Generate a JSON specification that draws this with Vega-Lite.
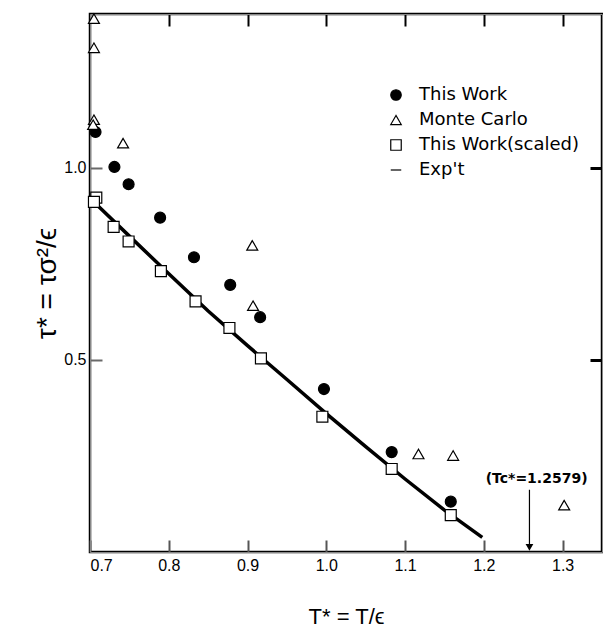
{
  "$schema": "https://vega.github.io/schema/vega-lite/v6.json",
  "width": 512,
  "height": 538,
  "autosize": {"type": "none"},
  "padding": {"left": 90, "top": 14, "right": 1, "bottom": 82},
  "background": "white",
  "config": {
    "view": {"stroke": "black", "strokeWidth": 2.5},
    "font": "Liberation Sans",
    "axis": {"zindex": 1, "grid": false, "labelColor": "black", "titleColor": "black", "labelFont": "Liberation Sans", "titleFont": "Liberation Sans", "titleFontWeight": "normal"}
  },
  "datasets": {
    "main": [
      {"series": "This Work", "T": 0.707, "tau": 1.093},
      {"series": "This Work", "T": 0.731, "tau": 1.002},
      {"series": "This Work", "T": 0.749, "tau": 0.957},
      {"series": "This Work", "T": 0.789, "tau": 0.870},
      {"series": "This Work", "T": 0.832, "tau": 0.767},
      {"series": "This Work", "T": 0.878, "tau": 0.695},
      {"series": "This Work", "T": 0.916, "tau": 0.611},
      {"series": "This Work", "T": 0.997, "tau": 0.424},
      {"series": "This Work", "T": 1.083, "tau": 0.260},
      {"series": "This Work", "T": 1.158, "tau": 0.131},
      {"series": "Monte Carlo", "T": 0.705, "tau": 1.388},
      {"series": "Monte Carlo", "T": 0.705, "tau": 1.312},
      {"series": "Monte Carlo", "T": 0.705, "tau": 1.125},
      {"series": "Monte Carlo", "T": 0.704, "tau": 1.112},
      {"series": "Monte Carlo", "T": 0.742, "tau": 1.064},
      {"series": "Monte Carlo", "T": 0.906, "tau": 0.798},
      {"series": "Monte Carlo", "T": 0.907, "tau": 0.641},
      {"series": "Monte Carlo", "T": 1.117, "tau": 0.255},
      {"series": "Monte Carlo", "T": 1.161, "tau": 0.251},
      {"series": "Monte Carlo", "T": 1.302, "tau": 0.122},
      {"series": "This Work(scaled)", "T": 0.708, "tau": 0.922},
      {"series": "This Work(scaled)", "T": 0.705, "tau": 0.911},
      {"series": "This Work(scaled)", "T": 0.730, "tau": 0.846},
      {"series": "This Work(scaled)", "T": 0.749, "tau": 0.808},
      {"series": "This Work(scaled)", "T": 0.790, "tau": 0.731},
      {"series": "This Work(scaled)", "T": 0.834, "tau": 0.652},
      {"series": "This Work(scaled)", "T": 0.877, "tau": 0.583},
      {"series": "This Work(scaled)", "T": 0.917, "tau": 0.504},
      {"series": "This Work(scaled)", "T": 0.995, "tau": 0.352},
      {"series": "This Work(scaled)", "T": 1.083, "tau": 0.216},
      {"series": "This Work(scaled)", "T": 1.158, "tau": 0.096},
      {"series": "Exp't", "T": 0.706, "tau": 0.909},
      {"series": "Exp't", "T": 0.75, "tau": 0.822},
      {"series": "Exp't", "T": 0.80, "tau": 0.724},
      {"series": "Exp't", "T": 0.85, "tau": 0.627},
      {"series": "Exp't", "T": 0.90, "tau": 0.537},
      {"series": "Exp't", "T": 0.95, "tau": 0.449},
      {"series": "Exp't", "T": 1.00, "tau": 0.360},
      {"series": "Exp't", "T": 1.05, "tau": 0.274},
      {"series": "Exp't", "T": 1.10, "tau": 0.190},
      {"series": "Exp't", "T": 1.15, "tau": 0.109},
      {"series": "Exp't", "T": 1.198, "tau": 0.038}
    ],
    "note": [
      {"T": 1.2579, "top": 0.162, "bottom": 0.02, "tip": 0.012, "labelT": 1.267, "labelTau": 0.19, "label": "(Tc*=1.2579)"}
    ]
  },
  "layer": [
    {
      "data": {"name": "main"},
      "transform": [{"filter": "datum.series === \"Exp't\""}],
      "mark": {"type": "line", "color": "black", "strokeWidth": 3.5},
      "encoding": {
        "x": {"field": "T", "type": "quantitative", "scale": {"domain": [0.7, 1.35], "nice": false, "zero": false},
          "axis": {"orient": "bottom", "values": [0.7, 0.8, 0.9, 1.0, 1.1, 1.2, 1.3], "format": ".1f", "tickSize": -12, "tickWidth": 2, "tickColor": "#555555", "labelPadding": 17, "labelFontSize": 16, "labelColor": "black", "title": "T* = T/ϵ", "titleColor": "black", "titleFontSize": 22, "titlePadding": 33}},
        "y": {"field": "tau", "type": "quantitative", "scale": {"domain": [0, 1.4], "nice": false, "zero": false},
          "axis": {"orient": "left", "values": [0.5, 1.0], "format": ".1f", "tickSize": -12, "tickWidth": 2, "tickColor": "dimgray", "labelPadding": 16, "labelFontSize": 16, "labelColor": "black", "title": "τ* = τσ²/ϵ", "titleColor": "black", "titleFontSize": 28, "titlePadding": 2}}
      }
    },
    {
      "data": {"name": "main"},
      "transform": [{"filter": "datum.series !== \"Exp't\""}],
      "mark": {"type": "point", "stroke": "black", "strokeWidth": 1.2, "opacity": 1, "size": 120},
      "encoding": {
        "x": {"field": "T", "type": "quantitative", "axis": {"orient": "top", "values": [0.8, 0.9, 1.0, 1.1, 1.2, 1.3], "tickSize": -12, "tickWidth": 2, "tickColor": "#000000", "tickOpacity": 1, "labels": false, "title": null}},
        "y": {"field": "tau", "type": "quantitative", "axis": {"orient": "right", "values": [0.5, 1.0], "tickSize": -12, "tickWidth": 3, "tickColor": "black", "labels": false, "title": null}},
        "shape": {"field": "series", "type": "nominal",
          "scale": {"domain": ["This Work", "Monte Carlo", "This Work(scaled)", "Exp't"], "range": ["circle", "triangle-up", "square", "stroke"]},
          "legend": {"orient": "none", "legendX": 297, "legendY": 72, "title": null, "padding": 0, "labelFont": "DejaVu Sans", "labelFontSize": 18, "labelColor": "black", "labelOffset": 14, "rowPadding": 7, "symbolSize": 110, "symbolStrokeWidth": 1.2,
            "encode": {"symbols": {"update": {"strokeWidth": {"signal": "datum.value === \"Exp't\" ? 3.5 : 1.2"}}}}}},
        "fill": {"field": "series", "type": "nominal",
          "scale": {"domain": ["This Work", "Monte Carlo", "This Work(scaled)", "Exp't"], "range": ["black", "white", "white", "black"]},
          "legend": {"orient": "none", "legendX": 297, "legendY": 72, "title": null, "padding": 0, "labelFont": "DejaVu Sans", "labelFontSize": 18, "labelColor": "black", "labelOffset": 14, "rowPadding": 7, "symbolSize": 110, "symbolStrokeWidth": 1.2,
            "encode": {"symbols": {"update": {"strokeWidth": {"signal": "datum.value === \"Exp't\" ? 3.5 : 1.2"}}}}}},
        "stroke": {"field": "series", "type": "nominal",
          "scale": {"domain": ["This Work", "Monte Carlo", "This Work(scaled)", "Exp't"], "range": ["black", "black", "black", "black"]},
          "legend": {"orient": "none", "legendX": 297, "legendY": 72, "title": null, "padding": 0, "labelFont": "DejaVu Sans", "labelFontSize": 18, "labelColor": "black", "labelOffset": 14, "rowPadding": 7, "symbolSize": 110, "symbolStrokeWidth": 1.2,
            "encode": {"symbols": {"update": {"strokeWidth": {"signal": "datum.value === \"Exp't\" ? 3.5 : 1.2"}}}}}}
      }
    },
    {
      "data": {"name": "note"},
      "mark": {"type": "rule", "color": "black", "strokeWidth": 1.2},
      "encoding": {
        "x": {"field": "T", "type": "quantitative", "axis": null},
        "y": {"field": "top", "type": "quantitative", "axis": null},
        "y2": {"field": "bottom"}
      }
    },
    {
      "data": {"name": "note"},
      "mark": {"type": "point", "shape": "triangle-down", "filled": true, "color": "black", "size": 60, "opacity": 1},
      "encoding": {
        "x": {"field": "T", "type": "quantitative", "axis": null},
        "y": {"field": "tip", "type": "quantitative", "axis": null}
      }
    },
    {
      "data": {"name": "note"},
      "mark": {"type": "text", "font": "DejaVu Sans", "fontSize": 14, "fontWeight": "bold", "color": "black", "align": "center", "baseline": "middle"},
      "encoding": {
        "x": {"field": "labelT", "type": "quantitative", "axis": null},
        "y": {"field": "labelTau", "type": "quantitative", "axis": null},
        "text": {"field": "label"}
      }
    }
  ],
  "resolve": {"axis": {"x": "independent", "y": "independent"}}
}
